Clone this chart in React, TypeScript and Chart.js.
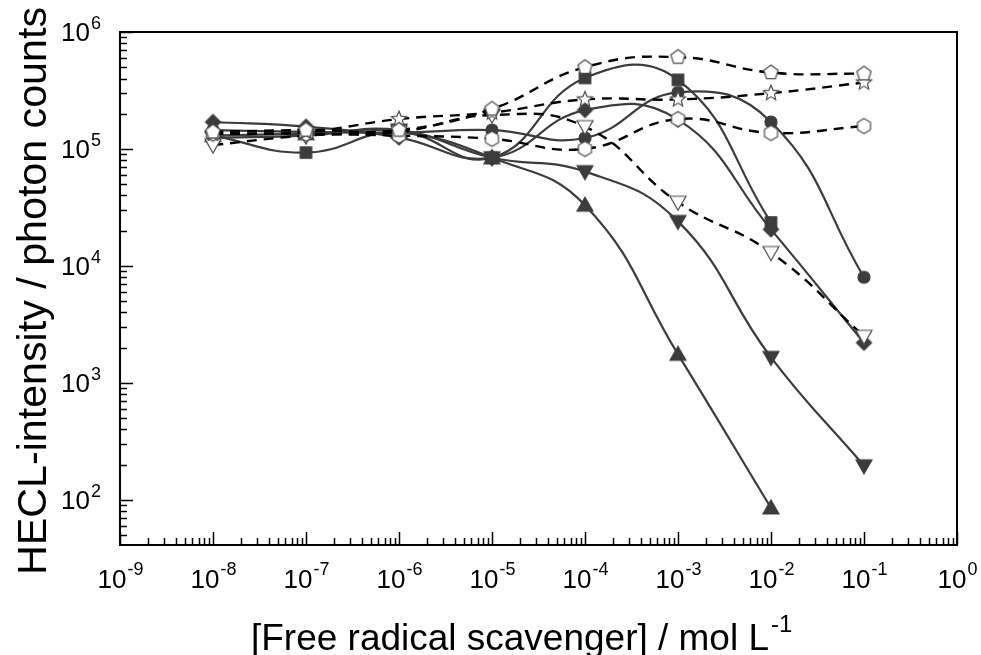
import { useEffect, useRef } from 'react';
import { Chart, registerables } from 'chart.js';

Chart.register(...registerables);

// concentrations (mol/L)
const concentrations = [1e-8, 1e-7, 1e-6, 1e-5, 1e-4, 1e-3, 1e-2, 1e-1];

// filled symbols, solid lines
const filledCircle = [1.45e5, 1.4e5, 1.38e5, 1.45e5, 1.24e5, 3.05e5, 1.7e5, 8.0e3];
const filledSquare = [1.3e5, 9.3e4, 1.4e5, 8.4e4, 4.05e5, 3.9e5, 2.35e4, null];
const filledDiamond = [1.7e5, 1.55e5, 1.25e5, 8.4e4, 2.15e5, 1.78e5, 2.05e4, 2.2e3];
const filledTriUp = [1.3e5, 1.35e5, 1.4e5, 8.4e4, 3.3e4, 1.75e3, 85, null];
const filledTriDown = [1.25e5, 1.3e5, 1.45e5, 8.4e4, 6.4e4, 2.4e4, 1.65e3, 195];

// open symbols, dashed lines
const openPentagon = [1.4e5, 1.45e5, 1.45e5, 2.2e5, 5.0e5, 6.1e5, 4.5e5, 4.4e5];
const openStar = [1.35e5, 1.4e5, 1.8e5, 2.05e5, 2.65e5, 2.65e5, 3.0e5, 3.7e5];
const openHexagon = [1.35e5, 1.35e5, 1.3e5, 1.22e5, 1.0e5, 1.8e5, 1.37e5, 1.57e5];
const openTriDown = [1.08e5, 1.3e5, 1.4e5, 1.95e5, 1.55e5, 3.5e4, 1.3e4, 2.5e3];

const xTickExponents = [-9, -8, -7, -6, -5, -4, -3, -2, -1, 0];
const yTickExponents = [2, 3, 4, 5, 6];
const xTitle = '[Free radical scavenger] / mol L';
const xTitleSup = '-1';
const yTitle = 'HECL-intensity / photon counts';

const FONT = '"Liberation Sans", Arial, sans-serif';

function makeMarker(shape: string, filled: boolean, size: number): HTMLCanvasElement {
  const pad = 3;
  const c = document.createElement('canvas');
  c.width = c.height = Math.ceil(size + pad * 2);
  const ctx = c.getContext('2d')!;
  const cx = c.width / 2;
  const cy = c.height / 2;
  const r = size / 2;
  ctx.beginPath();
  const poly = (n: number, start: number, rad: number) => {
    for (let i = 0; i < n; i++) {
      const a = start + (i * 2 * Math.PI) / n;
      const px = cx + rad * Math.cos(a);
      const py = cy + rad * Math.sin(a);
      if (i === 0) ctx.moveTo(px, py);
      else ctx.lineTo(px, py);
    }
    ctx.closePath();
  };
  if (shape === 'circle') {
    ctx.arc(cx, cy, r, 0, Math.PI * 2);
  } else if (shape === 'square') {
    const s = r * 0.88;
    ctx.rect(cx - s, cy - s, 2 * s, 2 * s);
  } else if (shape === 'diamond') {
    poly(4, -Math.PI / 2, r);
  } else if (shape === 'triUp') {
    ctx.moveTo(cx, cy - r);
    ctx.lineTo(cx + r, cy + r * 0.75);
    ctx.lineTo(cx - r, cy + r * 0.75);
    ctx.closePath();
  } else if (shape === 'triDown') {
    ctx.moveTo(cx, cy + r);
    ctx.lineTo(cx + r, cy - r * 0.75);
    ctx.lineTo(cx - r, cy - r * 0.75);
    ctx.closePath();
  } else if (shape === 'pentagon') {
    poly(5, -Math.PI / 2, r);
  } else if (shape === 'hexagon') {
    poly(6, -Math.PI / 2, r);
  } else if (shape === 'star') {
    for (let i = 0; i < 10; i++) {
      const a = -Math.PI / 2 + (i * Math.PI) / 5;
      const rad = i % 2 === 0 ? r : r * 0.45;
      const px = cx + rad * Math.cos(a);
      const py = cy + rad * Math.sin(a);
      if (i === 0) ctx.moveTo(px, py);
      else ctx.lineTo(px, py);
    }
    ctx.closePath();
  }
  ctx.fillStyle = filled ? '#3c3c3c' : '#ffffff';
  ctx.fill();
  ctx.lineWidth = 1.2;
  ctx.strokeStyle = filled ? '#3c3c3c' : '#4a4a4a';
  ctx.stroke();
  return c;
}

function toPoints(values: (number | null)[]) {
  const pts: { x: number; y: number }[] = [];
  values.forEach((v, i) => {
    if (v !== null) pts.push({ x: concentrations[i], y: v });
  });
  return pts;
}

const framePlugin = {
  id: 'frameAndLabels',
  beforeDatasetsDraw(chart: any) {
    const { ctx, chartArea } = chart;
    const { left, right, top, bottom } = chartArea;
    const xs = chart.scales.x;
    const ys = chart.scales.y;
    ctx.save();
    ctx.strokeStyle = '#000';
    ctx.lineWidth = 1.5;
    ctx.beginPath();
    for (let e = -9; e <= 0; e++) {
      for (let m = 1; m <= 9; m++) {
        const v = m * Math.pow(10, e);
        if (v > xs.max * 1.0001) break;
        const px = Math.round(xs.getPixelForValue(v)) + 0.5;
        const len = m === 1 ? 13 : 7;
        ctx.moveTo(px, bottom);
        ctx.lineTo(px, bottom - len);
      }
    }
    for (let e = 1; e <= 6; e++) {
      for (let m = 1; m <= 9; m++) {
        const v = m * Math.pow(10, e);
        if (v < ys.min || v > ys.max * 1.0001) continue;
        const py = Math.round(ys.getPixelForValue(v)) + 0.5;
        const len = m === 1 ? 13 : 7;
        ctx.moveTo(left, py);
        ctx.lineTo(left + len, py);
      }
    }
    ctx.stroke();
    ctx.lineWidth = 2;
    ctx.strokeRect(left, top, right - left, bottom - top);
    ctx.restore();
  },
  afterDraw(chart: any) {
    const { ctx, chartArea } = chart;
    const { bottom } = chartArea;
    const xs = chart.scales.x;
    const ys = chart.scales.y;
    ctx.save();
    ctx.fillStyle = '#000';
    ctx.textBaseline = 'alphabetic';
    const base = `26px ${FONT}`;
    const sup = `18px ${FONT}`;
    // x tick labels
    xTickExponents.forEach((e) => {
      const px = xs.getPixelForValue(Math.pow(10, e));
      ctx.font = base;
      const w1 = ctx.measureText('10').width;
      ctx.font = sup;
      const w2 = ctx.measureText(String(e)).width;
      const start = px - (w1 + w2) / 2;
      ctx.font = base;
      ctx.textAlign = 'left';
      ctx.fillText('10', start, bottom + 43);
      ctx.font = sup;
      ctx.fillText(String(e), start + w1 + 1, bottom + 30);
    });
    // y tick labels
    yTickExponents.forEach((e) => {
      const py = ys.getPixelForValue(Math.pow(10, e));
      ctx.font = sup;
      const w2 = ctx.measureText(String(e)).width;
      ctx.font = base;
      const w1 = ctx.measureText('10').width;
      const rightEdge = 101;
      ctx.textAlign = 'left';
      ctx.fillText('10', rightEdge - w2 - w1 - 1, py + 9);
      ctx.font = sup;
      ctx.fillText(String(e), rightEdge - w2, py - 3);
    });
    // x title
    ctx.font = `36px ${FONT}`;
    const tw = ctx.measureText(xTitle).width;
    const tStart = 251;
    const targetW = 518;
    ctx.save();
    ctx.translate(tStart, 650);
    ctx.scale(targetW / tw, 1);
    ctx.textAlign = 'left';
    ctx.fillText(xTitle, 0, 0);
    ctx.restore();
    ctx.font = `24px ${FONT}`;
    ctx.textAlign = 'left';
    ctx.fillText(xTitleSup, tStart + targetW + 2, 632);
    // y title
    ctx.font = `41px ${FONT}`;
    const yw = ctx.measureText(yTitle).width;
    ctx.save();
    ctx.translate(46, 291);
    ctx.rotate(-Math.PI / 2);
    ctx.scale(568 / yw, 1);
    ctx.textAlign = 'center';
    ctx.fillText(yTitle, 0, 0);
    ctx.restore();
    ctx.restore();
  },
};

export default function App() {
  const ref = useRef<HTMLCanvasElement | null>(null);
  useEffect(() => {
    document.body.style.margin = '0';
    const canvas = ref.current!;
    const filledColor = '#3c3c3c';
    const solid = (data: (number | null)[], shape: string, size: number) => ({
      data: toPoints(data),
      borderColor: filledColor,
      borderWidth: 2.2,
      tension: 0.45,
      pointStyle: makeMarker(shape, true, size),
      order: 2,
      fill: false,
    });
    const dashed = (data: (number | null)[], shape: string, size: number) => ({
      data: toPoints(data),
      borderColor: '#000000',
      borderWidth: 2.4,
      borderDash: [10, 7],
      tension: 0.45,
      pointStyle: makeMarker(shape, false, size),
      order: 1,
      fill: false,
    });
    const chart = new Chart(canvas, {
      type: 'line',
      data: {
        datasets: [
          solid(filledCircle, 'circle', 12),
          solid(filledSquare, 'square', 13),
          solid(filledDiamond, 'diamond', 15),
          solid(filledTriUp, 'triUp', 16),
          solid(filledTriDown, 'triDown', 16),
          dashed(openPentagon, 'pentagon', 15),
          dashed(openStar, 'star', 16),
          dashed(openHexagon, 'hexagon', 15),
          dashed(openTriDown, 'triDown', 16),
        ] as any,
      },
      options: {
        animation: false,
        responsive: false,
        maintainAspectRatio: false,
        layout: { padding: { left: 0, right: 24, top: 32, bottom: 0 } },
        plugins: { legend: { display: false }, tooltip: { enabled: false } },
        scales: {
          x: {
            type: 'logarithmic',
            min: 1e-9,
            max: 1,
            grid: { display: false },
            border: { display: false },
            ticks: { display: false },
            afterFit: (s: any) => {
              s.height = 110;
            },
          },
          y: {
            type: 'logarithmic',
            min: 41,
            max: 1e6,
            grid: { display: false },
            border: { display: false },
            ticks: { display: false },
            afterFit: (s: any) => {
              s.width = 120;
            },
          },
        },
      } as any,
      plugins: [framePlugin],
    });
    return () => chart.destroy();
  }, []);
  return (
    <canvas
      ref={ref}
      width={981}
      height={655}
      style={{ display: 'block', width: 981, height: 655 }}
    />
  );
}
